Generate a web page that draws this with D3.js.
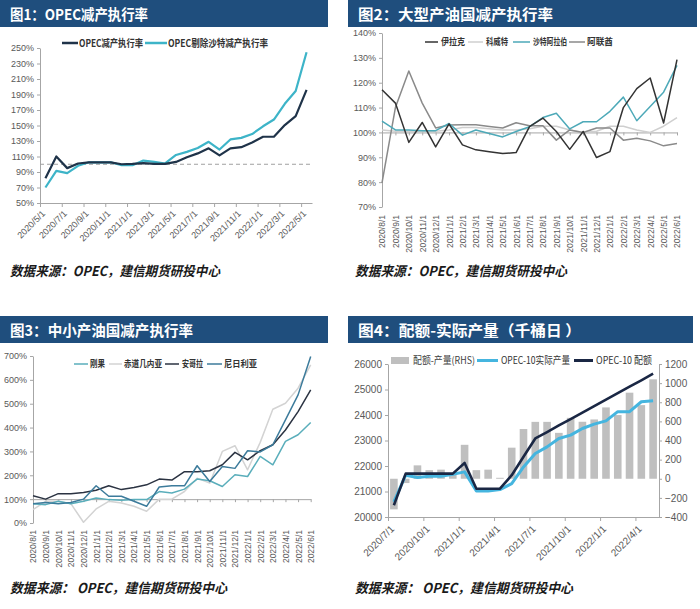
<!DOCTYPE html>
<html><head><meta charset="utf-8">
<script src="https://cdn.jsdelivr.net/npm/d3@7/dist/d3.min.js"></script>
<style>
body{margin:0;background:#fff;}
svg{display:block;font-family:"Liberation Sans",Arial,sans-serif;}
</style></head><body>
<svg id="c" width="700" height="609"></svg>
<script>
// ---------- Panel 1 data ----------
const months1 = ["2020/5/1","2020/6/1","2020/7/1","2020/8/1","2020/9/1","2020/10/1","2020/11/1","2020/12/1","2021/1/1","2021/2/1","2021/3/1","2021/4/1","2021/5/1","2021/6/1","2021/7/1","2021/8/1","2021/9/1","2021/10/1","2021/11/1","2021/12/1","2022/1/1","2022/2/1","2022/3/1","2022/4/1","2022/5/1"];
const opecRate = [82,110,95,101,102.5,102.5,102.5,100,100.5,101.5,100.5,100.5,103,109,114,120.5,111.5,120.5,122,128,135.5,135.5,150.5,162,196];
const opecExSaudi = [70,91.5,88.5,98,102.5,102.5,102.5,98.7,98.7,104.7,103,101,112,116,121,129,119,132,134,139,149,157.7,178,194.5,244.5];
const yTicks1 = [50,70,90,110,130,150,170,190,210,230,250];

// ---------- Panel 2 data ----------
const months2 = ["2020/8/1","2020/9/1","2020/10/1","2020/11/1","2020/12/1","2021/1/1","2021/2/1","2021/3/1","2021/4/1","2021/5/1","2021/6/1","2021/7/1","2021/8/1","2021/9/1","2021/10/1","2021/11/1","2021/12/1","2022/1/1","2022/2/1","2022/3/1","2022/4/1","2022/5/1","2022/6/1"];
const iraq   = [117.2,111.8,96,104,94.2,103.4,95,93,92.2,91.5,91.9,102.3,105.8,100.4,93.2,100.4,89.9,92.3,110,117.6,121.9,103.8,129.3];
const kuwait = [101,100.5,100.5,100.5,100.5,101,102,102,101.5,101,101,101.5,102.5,102.5,101,100,100.5,102.5,102.5,101,100,102.5,106];
const saudi  = [104.5,101,101,100.7,100.7,103.6,98.9,101,99.6,98.2,100.4,102.3,106,107.7,101.4,104.3,104.3,108.5,114.2,104.7,110.4,116.2,127];
const uae    = [79.7,110,124.7,111.8,101.8,103,103.1,103.1,102.4,101.8,103.9,102.7,102.7,96.9,101,100,101.8,101.8,96.9,97.7,96.6,94.6,95.5];
const yTicks2 = [70,80,90,100,110,120,130,140];

// ---------- Panel 3 data ----------
const months3 = months2.slice();
const congo    = [81,77,91,81,91,105,98,95,98,98,132,126,142,184,177,153,202,195,279,244,342,370,421];
const eqGuinea = [56,91,91,81,3,59,91,84,70,49,100,100,132,188,167,300,324,223,338,477,502,565,663];
const angola   = [114,100,123,123,128,137,156,140,149,160,184,180,215,215,219,244,296,265,303,328,390,467,558];
const nigeria  = [81,86,81,86,100,156,112,112,91,70,151,156,156,240,174,237,229,303,298,328,432,537,698];
const yTicks3 = [0,100,200,300,400,500,600,700];

// ---------- Panel 4 data ----------
const months4 = ["2020/7/1","2020/8/1","2020/9/1","2020/10/1","2020/11/1","2020/12/1","2021/1/1","2021/2/1","2021/3/1","2021/4/1","2021/5/1","2021/6/1","2021/7/1","2021/8/1","2021/9/1","2021/10/1","2021/11/1","2021/12/1","2022/1/1","2022/2/1","2022/3/1","2022/4/1","2022/5/1"];
const quota  = [20459,21700,21700,21700,21700,21700,22120,21110,21110,21110,21640,22360,23080,23330,23590,23840,24090,24350,24600,24860,25110,25360,25620];
const actual = [20590,21640,21546,21600,21600,21677,21770,21020,21020,21075,21310,21965,22490,22750,23080,23210,23470,23640,23770,24130,24130,24520,24560];
const gap    = [-320,-45,140,90,95,40,355,90,95,10,325,520,595,595,480,637,596,620,746,666,900,770,1040];
const yTicks4L = [20000,21000,22000,23000,24000,25000,26000];
const yTicks4R = [-400,-200,0,200,400,600,800,1000,1200];

// ---------- helpers ----------
const svg = d3.select("#c");
const NAVY = "#1f4e7d";
const CJK = "'Noto Sans CJK SC', sans-serif";

function titleBar(x, y, w, label, len) {
  svg.append("rect").attr("x", x).attr("y", y).attr("width", w).attr("height", 27).attr("fill", NAVY);
  svg.append("text").attr("x", x + 10).attr("y", y + 20).attr("fill", "#fff")
    .attr("font-family", CJK).attr("font-size", 15).attr("font-weight", 700)
    .attr("textLength", len).attr("lengthAdjust", "spacingAndGlyphs").text(label);
}
function sourceNote(x, y, label, len) {
  svg.append("text").attr("x", x).attr("y", y).attr("fill", "#1a1a1a")
    .attr("font-family", CJK).attr("font-size", 13.5).attr("font-weight", 700).attr("font-style", "italic")
    .attr("textLength", len).attr("lengthAdjust", "spacingAndGlyphs").text(label);
}
function styleAxis(g, fs) {
  g.selectAll("path,line").attr("stroke", "#a6a6a6");
  g.selectAll("text").attr("fill", "#595959").attr("font-family", "'Liberation Sans', Arial, sans-serif").attr("font-size", fs || 9);
}
function drawLine(xs, ys, vals, color, w, off) {
  svg.append("path").datum(vals).attr("fill", "none").attr("stroke", color).attr("stroke-width", w)
    .attr("stroke-linejoin", "round")
    .attr("d", d3.line().x((d, i) => xs(i + (off || 0))).y(d => ys(d)));
}
function legLine(x1, x2, y, color, w, label, tx, len, fs, weight) {
  svg.append("line").attr("x1", x1).attr("x2", x2).attr("y1", y).attr("y2", y).attr("stroke", color).attr("stroke-width", w);
  svg.append("text").attr("x", tx).attr("y", y + (fs * 0.36)).attr("fill", "#333").attr("font-family", CJK)
    .attr("font-size", fs).attr("font-weight", weight || 400)
    .attr("textLength", len).attr("lengthAdjust", "spacingAndGlyphs").text(label);
}
const pct = d => d + "%";

// ================= Panel 1 =================
titleBar(0, 0, 328, "图1：OPEC减产执行率", 138);
{
  const x = d3.scaleLinear().domain([0, months1.length]).range([40, 312]);
  const y = d3.scaleLinear().domain([50, 250]).range([203, 48]);
  const ticks1 = months1.filter((d, i) => i % 2 === 0);
  const gy = svg.append("g").attr("transform", "translate(40,0)")
    .call(d3.axisLeft(y).tickValues(yTicks1).tickFormat(pct).tickSize(3).tickSizeOuter(0));
  styleAxis(gy, 9);
  const gx = svg.append("g").attr("transform", "translate(0,203)")
    .call(d3.axisBottom(x).tickValues(d3.range(0, months1.length, 2)).tickFormat((d, i) => ticks1[i]).tickSize(4).tickSizeOuter(0));
  styleAxis(gx, 9);
  gx.selectAll(".tick text").attr("text-anchor", "end").attr("x", 0).attr("y", 0).attr("dy", "0.35em")
    .attr("transform", "translate(3,9) rotate(-45)");
  svg.append("line").attr("x1", 40).attr("x2", 312).attr("y1", y(100)).attr("y2", y(100))
    .attr("stroke", "#a0a0a0").attr("stroke-width", 1).attr("stroke-dasharray", "4,3");
  drawLine(x, y, opecExSaudi, "#3db4c8", 2.2, 0.5);
  drawLine(x, y, opecRate, "#1f3349", 2.2, 0.5);
  legLine(62, 78, 43, "#1f3349", 2.5, "OPEC减产执行率", 79, 64, 10, 700);
  legLine(145, 167, 43, "#3db4c8", 2.5, "OPEC剔除沙特减产执行率", 168, 100, 10, 700);
}
sourceNote(10, 276, "数据来源：OPEC，建信期货研投中心", 210);

// ================= Panel 2 =================
titleBar(348, 0, 349, "图2：大型产油国减产执行率", 195);
{
  const x = d3.scaleLinear().domain([0, months2.length - 1]).range([382, 677]);
  const y = d3.scaleLinear().domain([70, 140]).range([207, 33]);
  const gy = svg.append("g").attr("transform", "translate(382,0)")
    .call(d3.axisLeft(y).tickValues(yTicks2).tickFormat(pct).tickSize(3).tickSizeOuter(0));
  styleAxis(gy, 9);
  const ga = svg.append("g").attr("transform", `translate(0,${y(100)})`)
    .call(d3.axisBottom(x).tickValues(d3.range(months2.length)).tickFormat("").tickSize(3).tickSizeOuter(0));
  styleAxis(ga);
  const gl = svg.append("g").attr("transform", "translate(0,207)")
    .call(d3.axisBottom(x).tickValues(d3.range(months2.length)).tickFormat(i => months2[i]).tickSize(0));
  gl.select(".domain").remove();
  styleAxis(gl, 8.5);
  gl.selectAll(".tick text").attr("text-anchor", "end").attr("x", 0).attr("y", 0).attr("dy", "0.35em")
    .attr("transform", "translate(0,8) rotate(-90)");
  drawLine(x, y, kuwait, "#cfcfcf", 1.5);
  drawLine(x, y, uae, "#8a8a8a", 1.5);
  drawLine(x, y, saudi, "#4da9b8", 1.5);
  drawLine(x, y, iraq, "#333333", 1.5);
  legLine(425, 438, 42, "#333333", 1.5, "伊拉克", 441, 24, 9, 700);
  legLine(468, 483, 42, "#cfcfcf", 1.5, "科威特", 486, 22, 9, 700);
  legLine(513, 530, 42, "#4da9b8", 1.5, "沙特阿拉伯", 533, 34, 9, 700);
  legLine(569, 585, 42, "#8a8a8a", 1.5, "阿联酋", 587, 26, 9, 700);
}
sourceNote(355, 276, "数据来源：OPEC，建信期货研投中心", 212);

// ================= Panel 3 =================
titleBar(0, 316, 328, "图3：中小产油国减产执行率", 183);
{
  const x = d3.scaleLinear().domain([0, months3.length - 1]).range([33, 310.7]);
  const y = d3.scaleLinear().domain([0, 700]).range([523, 356]);
  const gy = svg.append("g").attr("transform", "translate(33,0)")
    .call(d3.axisLeft(y).tickValues(yTicks3).tickFormat(pct).tickSize(3).tickSizeOuter(0));
  styleAxis(gy, 9);
  const ga = svg.append("g").attr("transform", `translate(0,${y(100)})`)
    .call(d3.axisBottom(x).tickValues(d3.range(months3.length)).tickFormat("").tickSize(3).tickSizeOuter(0));
  styleAxis(ga);
  const gl = svg.append("g").attr("transform", "translate(0,523)")
    .call(d3.axisBottom(x).tickValues(d3.range(months3.length)).tickFormat(i => months3[i]).tickSize(0));
  gl.select(".domain").remove();
  styleAxis(gl, 8.5);
  gl.selectAll(".tick text").attr("text-anchor", "end").attr("x", 0).attr("y", 0).attr("dy", "0.35em")
    .attr("transform", "translate(0,7) rotate(-90)");
  drawLine(x, y, eqGuinea, "#d3d3d3", 1.5);
  drawLine(x, y, congo, "#5aaebb", 1.5);
  drawLine(x, y, angola, "#2b3342", 1.5);
  drawLine(x, y, nigeria, "#3c7b9b", 1.5);
  legLine(74, 88, 364, "#5aaebb", 1.5, "刚果", 90, 15, 9, 700);
  legLine(109, 122, 364, "#d3d3d3", 1.5, "赤道几内亚", 124, 38, 9, 700);
  legLine(165, 179, 364, "#2b3342", 1.5, "安哥拉", 182, 21, 9, 700);
  legLine(207, 222, 364, "#3c7b9b", 1.5, "尼日利亚", 224, 33, 9, 700);
}
sourceNote(10, 593, "数据来源：  OPEC，建信期货研投中心", 217);

// ================= Panel 4 =================
titleBar(348, 316, 345, "图4：配额-实际产量（千桶日 ）", 223);
{
  const x = d3.scaleLinear().domain([0, months4.length]).range([388, 659]);
  const yL = d3.scaleLinear().domain([20000, 26000]).range([517, 364]);
  const yR = d3.scaleLinear().domain([-400, 1200]).range([517, 364]);
  const bw = 7.6;
  svg.append("g").selectAll("rect").data(gap).join("rect")
    .attr("x", (d, i) => x(i + 0.5) - bw / 2).attr("width", bw)
    .attr("y", d => yR(Math.max(0, d))).attr("height", d => Math.abs(yR(d) - yR(0)))
    .attr("fill", "#bfbfbf");
  const gyl = svg.append("g").attr("transform", "translate(388,0)")
    .call(d3.axisLeft(yL).tickValues(yTicks4L).tickFormat(d3.format("d")).tickSize(3).tickSizeOuter(0));
  styleAxis(gyl, 10);
  const gyr = svg.append("g").attr("transform", "translate(659,0)")
    .call(d3.axisRight(yR).tickValues(yTicks4R).tickFormat(d3.format("d")).tickSize(3).tickSizeOuter(0));
  styleAxis(gyr, 10);
  const ticks4 = months4.filter((d, i) => i % 3 === 0);
  const gx = svg.append("g").attr("transform", "translate(0,517)")
    .call(d3.axisBottom(x).tickValues(d3.range(0, months4.length, 3)).tickFormat((d, i) => ticks4[i]).tickSize(4).tickSizeOuter(0));
  styleAxis(gx, 10);
  gx.selectAll(".tick text").attr("text-anchor", "end").attr("x", 0).attr("y", 0).attr("dy", "0.35em")
    .attr("transform", "translate(4,10) rotate(-45)");
  drawLine(x, yL, actual, "#45b5df", 3, 0.5);
  drawLine(x, yL, quota, "#1a2744", 2.6, 0.5);
  svg.append("rect").attr("x", 391).attr("y", 357).attr("width", 18).attr("height", 7).attr("fill", "#bfbfbf");
  svg.append("text").attr("x", 413).attr("y", 364).attr("fill", "#404040").attr("font-family", CJK).attr("font-size", 10)
    .attr("textLength", 62).attr("lengthAdjust", "spacingAndGlyphs").text("配额-产量(RHS)");
  legLine(477, 498, 360.5, "#45b5df", 3, "OPEC-10实际产量", 501, 69, 10, 400);
  legLine(574, 593, 360.5, "#1a2744", 3, "OPEC-10 配额", 596, 56, 10, 400);
}
sourceNote(355, 593, "数据来源：  OPEC，建信期货研投中心", 218);
</script>
</body></html>
